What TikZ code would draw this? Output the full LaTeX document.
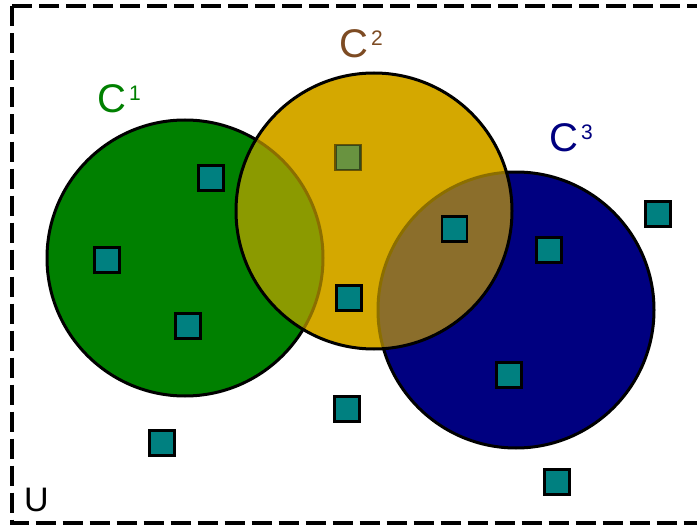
\documentclass[tikz,border=0pt]{standalone}
\usepackage{fontspec}
\setmainfont{Liberation Sans}
\definecolor{cgreen}{RGB}{0,128,0}
\definecolor{cyellow}{RGB}{212,168,0}
\definecolor{cblue}{RGB}{0,0,128}
\definecolor{cteal}{RGB}{0,128,128}
\definecolor{cbrown}{RGB}{125,75,35}
\newcommand{\setlabel}[2]{{\fontsize{40}{40}\selectfont C}\kern2.5pt\raisebox{12pt}{\fontsize{21}{21}\selectfont #2}}
\begin{document}
\begin{tikzpicture}[x=1pt,y=-1pt,
  sq/.style={rectangle, draw=black, fill=cteal, line width=2.5pt, minimum size=25pt, inner sep=0pt},
  ring/.style={line width=3pt, draw=black},
  lbl/.style={anchor=base west, inner sep=0pt},
  frame/.style={line width=4pt, dash pattern=on 20pt off 7pt}]
\useasboundingbox (0,0) rectangle (697,527);
\fill[white] (0,0) rectangle (697,527);
\coordinate (g) at (185,258);
\coordinate (y) at (374,211);
\coordinate (b) at (516,310);
% universe frame
\draw[frame] (12,6.5) -- (12,523) -- (720,523);
\draw[frame] (12,6.5) -- (720,6.5);
% circles
\fill[cyellow] (y) circle (138pt);
\fill[cgreen] (g) circle (138pt);
\draw[ring] (g) circle (138pt);
\fill[cblue] (b) circle (138pt);
\draw[ring] (b) circle (138pt);
\fill[cyellow, fill opacity=0.66] (y) circle (138pt);
\draw[ring] (y) circle (138pt);
% elements
\node[sq, opacity=0.5] (s4) at (348,157.5) {};
\node[sq] (s1) at (211,178) {};
\node[sq] (s2) at (107,260) {};
\node[sq] (s3) at (188,326) {};
\node[sq] (s5) at (349,298) {};
\node[sq] (s6) at (454.5,229) {};
\node[sq] (s7) at (549,250) {};
\node[sq] (s8) at (658,214) {};
\node[sq] (s9) at (509,375) {};
\node[sq] (s10) at (347,409) {};
\node[sq] (s11) at (162,443) {};
\node[sq] (s12) at (557,482) {};
% labels
\node[lbl, text=cgreen] (l1) at (97.5,112.5) {\setlabel{cgreen}{1}};
\node[lbl, text=cbrown] (l2) at (339.5,57.5) {\setlabel{cbrown}{2}};
\node[lbl, text=cblue] (l3) at (549.5,151.5) {\setlabel{cblue}{3}};
\node[lbl] (lu) at (24,511) {\fontsize{34}{34}\selectfont U};
\end{tikzpicture}
\end{document}
